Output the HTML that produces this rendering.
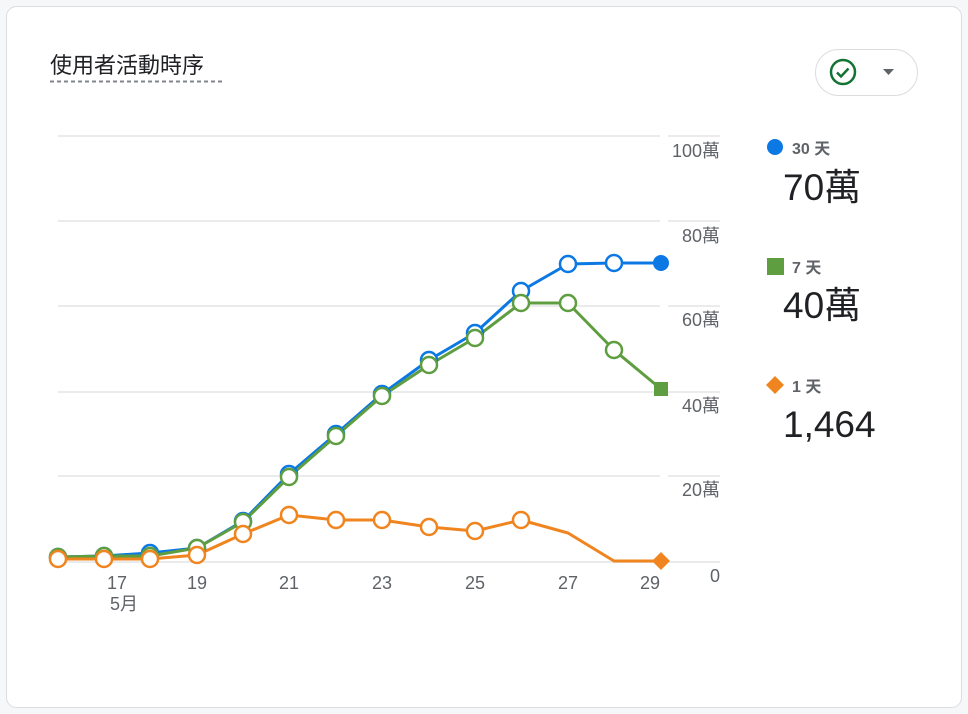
<!DOCTYPE html>
<html><head><meta charset="utf-8"><style>
body{margin:0;background:#f6f7f9;}
svg{display:block;font-family:"Liberation Sans","Noto Sans CJK TC",sans-serif;}
</style></head><body>
<svg width="968" height="714" viewBox="0 0 968 714" xmlns="http://www.w3.org/2000/svg">
<rect x="0" y="0" width="968" height="714" fill="#f6f7f9"/>
<rect x="6.5" y="6.5" width="955" height="701" rx="10" fill="#fff" stroke="#dadce0"/>
<text x="50" y="73" font-size="22" fill="#202124">使用者活動時序</text>
<line x1="50" y1="81.5" x2="223" y2="81.5" stroke="#80868b" stroke-width="2" stroke-dasharray="4,3"/>
<rect x="815.5" y="49.5" width="102" height="46" rx="23" fill="#fff" stroke="#dadce0"/>
<circle cx="843" cy="72" r="12" fill="none" stroke="#137333" stroke-width="2.5"/>
<path d="M837 72.5l4 4 7.5-8" fill="none" stroke="#137333" stroke-width="2.5"/>
<path d="M883 69h11l-5.5 6z" fill="#5f6368"/>
<g stroke="#ebebeb" stroke-width="2">
<line x1="58" y1="136" x2="660" y2="136"/><line x1="668" y1="136" x2="720" y2="136"/>
<line x1="58" y1="221" x2="660" y2="221"/><line x1="668" y1="221" x2="720" y2="221"/>
<line x1="58" y1="306" x2="660" y2="306"/><line x1="668" y1="306" x2="720" y2="306"/>
<line x1="58" y1="392" x2="660" y2="392"/><line x1="668" y1="392" x2="720" y2="392"/>
<line x1="58" y1="476" x2="660" y2="476"/><line x1="668" y1="476" x2="720" y2="476"/>
<line x1="58" y1="562" x2="660" y2="562"/><line x1="668" y1="562" x2="720" y2="562"/>
</g>
<g font-size="18" fill="#5f6368" text-anchor="end">
<text x="720" y="157">100萬</text><text x="720" y="242">80萬</text><text x="720" y="326">60萬</text>
<text x="720" y="412">40萬</text><text x="720" y="496">20萬</text><text x="720" y="582">0</text>
</g>
<g font-size="18" fill="#5f6368" text-anchor="middle">
<text x="117" y="589">17</text><text x="124" y="610">5月</text><text x="197" y="589">19</text><text x="289" y="589">21</text>
<text x="382" y="589">23</text><text x="475" y="589">25</text><text x="568" y="589">27</text><text x="650" y="589">29</text>
</g>
<g fill="none" stroke-width="3" stroke-linejoin="round">
<polyline stroke="#0b78e3" points="58,557 104,556 150,553 197,548 243,521 289,474 336,434 382,394 429,360 475,333 521,291 568,264 614,263 661,263"/>
<polyline stroke="#5f9e40" points="58,557 104,556 150,556 197,548 243,522 289,477 336,436 382,396 429,365 475,338 521,303 568,303 614,350 661,389"/>
<polyline stroke="#f0851f" points="58,559 104,559 150,559 197,555 243,534 289,515 336,520 382,520 429,527 475,531 521,520 568,533 614,561 661,561"/>
</g>
<g fill="#fff" stroke-width="2.5">
<g stroke="#0b78e3">
<circle cx="58" cy="557" r="8"/><circle cx="104" cy="556" r="8"/><circle cx="150" cy="553" r="8"/><circle cx="197" cy="548" r="8"/><circle cx="243" cy="521" r="8"/><circle cx="289" cy="474" r="8"/><circle cx="336" cy="434" r="8"/><circle cx="382" cy="394" r="8"/><circle cx="429" cy="360" r="8"/><circle cx="475" cy="333" r="8"/><circle cx="521" cy="291" r="8"/><circle cx="568" cy="264" r="8"/><circle cx="614" cy="263" r="8"/>
</g>
<g stroke="#5f9e40">
<circle cx="58" cy="557" r="8"/><circle cx="104" cy="556" r="8"/><circle cx="150" cy="556" r="8"/><circle cx="197" cy="548" r="8"/><circle cx="243" cy="522" r="8"/><circle cx="289" cy="477" r="8"/><circle cx="336" cy="436" r="8"/><circle cx="382" cy="396" r="8"/><circle cx="429" cy="365" r="8"/><circle cx="475" cy="338" r="8"/><circle cx="521" cy="303" r="8"/><circle cx="568" cy="303" r="8"/><circle cx="614" cy="350" r="8"/>
</g>
<g stroke="#f0851f">
<circle cx="58" cy="559" r="8"/><circle cx="104" cy="559" r="8"/><circle cx="150" cy="559" r="8"/><circle cx="197" cy="555" r="8"/><circle cx="243" cy="534" r="8"/><circle cx="289" cy="515" r="8"/><circle cx="336" cy="520" r="8"/><circle cx="382" cy="520" r="8"/><circle cx="429" cy="527" r="8"/><circle cx="475" cy="531" r="8"/><circle cx="521" cy="520" r="8"/>
</g>
</g>
<circle cx="661" cy="263" r="8" fill="#0b78e3"/>
<rect x="654" y="382" width="14" height="14" fill="#5f9e40"/>
<path d="M661 552l9 9-9 9-9-9z" fill="#f0851f"/>
<circle cx="775" cy="147" r="8" fill="#0b78e3"/>
<text x="792" y="154" font-size="16" font-weight="bold" fill="#5f6368">30 天</text>
<text x="783" y="200" font-size="37" fill="#202124">70萬</text>
<rect x="767" y="258" width="17" height="17" fill="#5f9e40"/>
<text x="792" y="273" font-size="16" font-weight="bold" fill="#5f6368">7 天</text>
<text x="783" y="318" font-size="37" fill="#202124">40萬</text>
<path d="M775 376l9 9-9 9-9-9z" fill="#f0851f"/>
<text x="792" y="392" font-size="16" font-weight="bold" fill="#5f6368">1 天</text>
<text x="783" y="437" font-size="37" fill="#202124">1,464</text>
</svg>
</body></html>
